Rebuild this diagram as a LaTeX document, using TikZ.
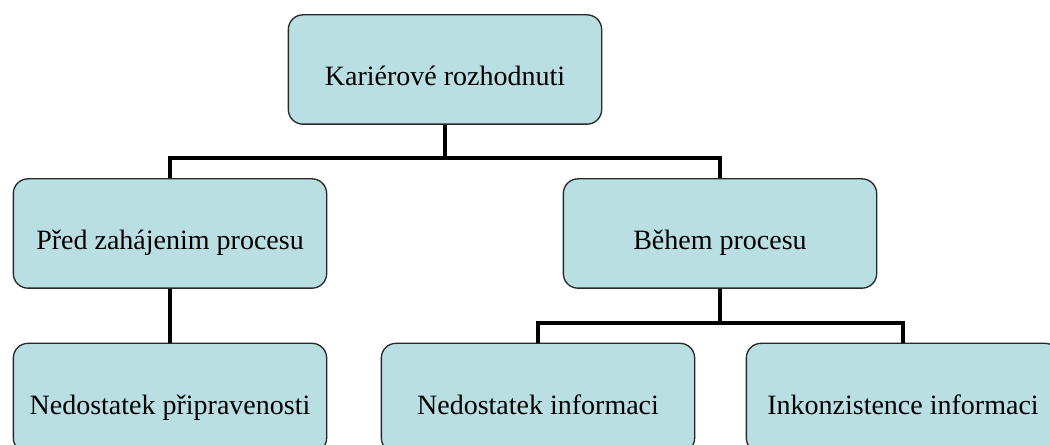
\documentclass[tikz,border=0pt]{standalone}
\usepackage{fontspec}
\setmainfont{Liberation Serif}
\definecolor{powderblue}{RGB}{186,223,227}
\definecolor{boxline}{RGB}{40,40,40}

\tikzset{
  box/.style={rectangle, rounded corners=11pt, draw=boxline, line width=1pt, fill=powderblue,
    minimum width=235pt, minimum height=82pt, inner sep=0pt, text height=27pt, text depth=3pt,
    font=\fontsize{21}{25}\selectfont},
  link/.style={line width=3pt, black}
}

\begin{document}
\begin{tikzpicture}[x=0.75pt, y=-0.75pt]
      \useasboundingbox (0,0) rectangle (1050,445);

      \node[box] (top) at (445, 69.5) {Kariérové rozhodnuti};
      \node[box] (pred) at (170, 233.5) {Před zahájenim procesu};
      \node[box] (behem) at (720, 233.5) {Během procesu};
      \node[box] (pripr) at (170, 398) {Nedostatek připravenosti};
      \node[box] (nedost) at (538, 398) {Nedostatek informaci};
      \node[box] (inkonz) at (903, 398) {Inkonzistence informaci};

      \draw[link] (top.south) -- ++(0,33) -| (pred.north);
      \draw[link] (top.south) -- ++(0,33) -| (behem.north);

      \draw[link] (pred.south) -- (pripr.north);

      \draw[link] (behem.south) -- ++(0,34) -| (nedost.north);
      \draw[link] (behem.south) -- ++(0,34) -| (inkonz.north);

    \end{tikzpicture}
\end{document}
